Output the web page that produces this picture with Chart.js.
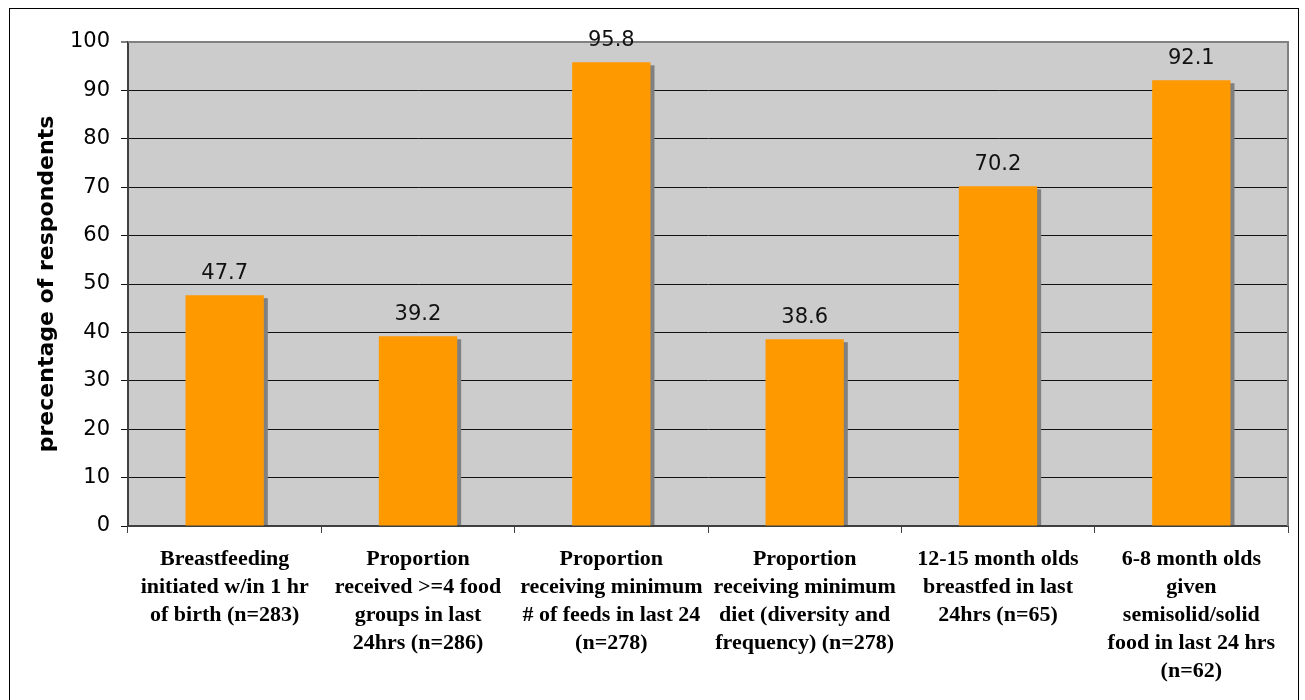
<!DOCTYPE html>
<html>
<head>
<meta charset="utf-8">
<style>
  html, body { margin: 0; padding: 0; background: #ffffff; }
  #wrap { width: 1305px; height: 700px; }
</style>
<script src="https://cdn.jsdelivr.net/npm/chart.js"></script>
</head>
<body>
<div id="wrap"><canvas id="chart" width="1305" height="700"></canvas></div>
<script>
// Infant and young child feeding indicators
const categories = [
  ["Breastfeeding", "initiated w/in 1 hr", "of birth (n=283)"],
  ["Proportion", "received >=4 food", "groups in last", "24hrs (n=286)"],
  ["Proportion", "receiving minimum", "# of feeds in last 24", "(n=278)"],
  ["Proportion", "receiving minimum", "diet (diversity and", "frequency) (n=278)"],
  ["12-15 month olds", "breastfed in last", "24hrs (n=65)"],
  ["6-8 month olds", "given", "semisolid/solid", "food in last 24 hrs", "(n=62)"]
];
const percentages = [47.7, 39.2, 95.8, 38.6, 70.2, 92.1];
const yTicks = [0, 10, 20, 30, 40, 50, 60, 70, 80, 90, 100];
const yTitle = "precentage of respondents";

// Grey plot background, outer frame, and top/right plot edges
const framePlugin = {
  id: 'frame',
  beforeDraw(chart) {
    const { ctx, chartArea: a } = chart;
    ctx.save();
    ctx.fillStyle = '#ffffff';
    ctx.fillRect(0, 0, chart.width, chart.height);
    ctx.fillStyle = '#cccccc';
    ctx.fillRect(a.left, a.top, a.right - a.left, a.bottom - a.top);
    ctx.strokeStyle = '#000000';
    ctx.lineWidth = 1;
    ctx.strokeRect(9.5, 8.5, 1289, 720);
    ctx.restore();
  },
  beforeDatasetsDraw(chart) {
    const { ctx, chartArea: a } = chart;
    ctx.save();
    ctx.strokeStyle = '#808080';
    ctx.lineWidth = 2;
    ctx.beginPath();
    ctx.moveTo(a.left, a.top);
    ctx.lineTo(a.right, a.top);
    ctx.lineTo(a.right, a.bottom);
    ctx.stroke();
    // drop shadow behind each bar
    ctx.beginPath();
    ctx.rect(a.left, a.top, a.right - a.left, a.bottom - a.top - 1);
    ctx.clip();
    ctx.fillStyle = '#808080';
    chart.getDatasetMeta(0).data.forEach(bar => {
      const w = bar.width;
      ctx.fillRect(bar.x - w / 2 + 4, bar.y + 3, w, bar.base - bar.y);
    });
    ctx.restore();
  },
  afterDatasetsDraw(chart) {
    const { ctx } = chart;
    ctx.save();
    ctx.font = '21px "DejaVu Sans"';
    ctx.fillStyle = '#111111';
    ctx.textAlign = 'center';
    ctx.textBaseline = 'middle';
    chart.getDatasetMeta(0).data.forEach((bar, i) => {
      ctx.fillText(percentages[i].toFixed(1), bar.x, bar.y - 22);
    });
    ctx.restore();
  }
};

new Chart(document.getElementById('chart'), {
  type: 'bar',
  data: {
    labels: categories,
    datasets: [{
      data: percentages,
      backgroundColor: '#ff9900',
      borderWidth: 0,
      categoryPercentage: 0.405,
      barPercentage: 1
    }]
  },
  plugins: [framePlugin],
  options: {
    responsive: false,
    animation: false,
    layout: { padding: { top: 42, right: 17, left: 0, bottom: 0 } },
    plugins: { legend: { display: false }, tooltip: { enabled: false } },
    scales: {
      x: {
        grid: { offset: true, drawOnChartArea: false, color: '#404040', lineWidth: 1, tickLength: 7 },
        border: { color: '#404040', width: 2 },
        ticks: {
          autoSkip: false, maxRotation: 0, minRotation: 0, padding: 12,
          color: '#000000',
          font: { family: '"Liberation Serif", "Times New Roman", serif', size: 22, weight: 'bold', lineHeight: '28px' }
        },
        afterFit(scale) { scale.height = 174; }
      },
      y: {
        min: 0, max: 100,
        afterBuildTicks(scale) { scale.ticks = yTicks.map(v => ({ value: v })); },
        grid: {
          color: ctx => (ctx.tick && ctx.tick.value === 100) ? '#808080' : '#111111',
          lineWidth: ctx => (ctx.tick && ctx.tick.value === 100) ? 2 : 1,
          tickLength: 7
        },
        border: { color: '#404040', width: 2 },
        ticks: {
          padding: 11, color: '#000000',
          font: { family: '"DejaVu Sans", Verdana, sans-serif', size: 21 }
        },
        title: {
          display: true, text: yTitle, color: '#000000',
          font: { family: '"DejaVu Sans", Verdana, sans-serif', size: 22, weight: 'bold' },
          padding: { top: 34, bottom: 0 }
        },
        afterFit(scale) { scale.width = 128; }
      }
    }
  }
});
</script>
</body>
</html>
